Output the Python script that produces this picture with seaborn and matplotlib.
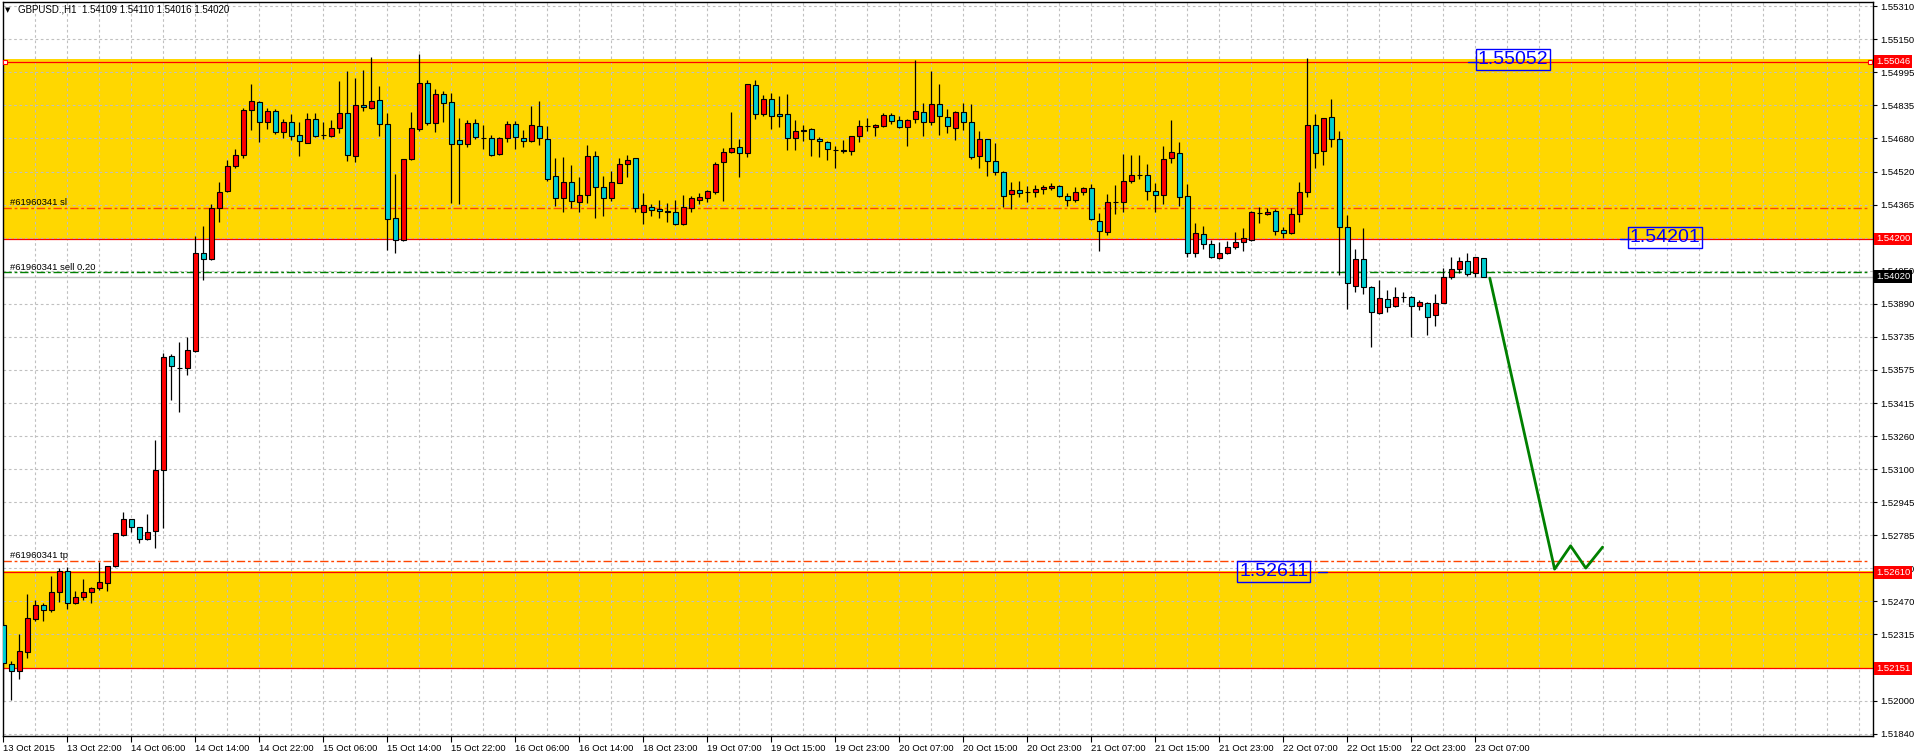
import numpy as np
import pandas as pd
import matplotlib
matplotlib.use("Agg")
import matplotlib.pyplot as plt
import matplotlib.transforms as mtransforms
import seaborn as sns

# GBPUSD H1 candles, 13 Oct 14:00 .. 23 Oct 07:00
opens = [
    1.52360, 1.52171, 1.52141, 1.52232, 1.52387, 1.52453, 1.52428, 1.52518, 1.52614, 1.52462,
    1.52494, 1.52516, 1.52534, 1.52561, 1.52638, 1.52790, 1.52862, 1.52826, 1.52767, 1.52805,
    1.53096, 1.53643, 1.53586, 1.53586, 1.53666, 1.54133, 1.54106, 1.54347, 1.54427, 1.54546,
    1.54599, 1.54817, 1.54852, 1.54756, 1.54809, 1.54712, 1.54756, 1.54695, 1.54659, 1.54771,
    1.54695, 1.54693, 1.54731, 1.54799, 1.54594, 1.54838, 1.54823, 1.54861, 1.54747, 1.54299,
    1.54194, 1.54580, 1.54722, 1.54942, 1.54752, 1.54890, 1.54852, 1.54671, 1.54652, 1.54752,
    1.54683, 1.54680, 1.54604, 1.54683, 1.54747, 1.54682, 1.54666, 1.54737, 1.54675, 1.54499,
    1.54394, 1.54470, 1.54375, 1.54408, 1.54596, 1.54446, 1.54394, 1.54465, 1.54556, 1.54585,
    1.54330, 1.54350, 1.54341, 1.54332, 1.54327, 1.54270, 1.54349, 1.54386, 1.54397, 1.54426,
    1.54566, 1.54613, 1.54637, 1.54612, 1.54933, 1.54795, 1.54866, 1.54796, 1.54795, 1.54679,
    1.54717, 1.54723, 1.54677, 1.54663, 1.54626, 1.54620, 1.54617, 1.54690, 1.54737, 1.54736,
    1.54737, 1.54790, 1.54766, 1.54733, 1.54771, 1.54804, 1.54756, 1.54842, 1.54780, 1.54731,
    1.54804, 1.54756, 1.54597, 1.54675, 1.54574, 1.54518, 1.54413, 1.54432, 1.54423, 1.54426,
    1.54437, 1.54442, 1.54453, 1.54405, 1.54384, 1.54423, 1.54442, 1.54284, 1.54232, 1.54375,
    1.54375, 1.54475, 1.54504, 1.54504, 1.54427, 1.54408, 1.54585, 1.54609, 1.54403, 1.54132,
    1.54222, 1.54175, 1.54111, 1.54132, 1.54163, 1.54187, 1.54195, 1.54325, 1.54319, 1.54335,
    1.54243, 1.54227, 1.54319, 1.54423, 1.54742, 1.54617, 1.54780, 1.54675, 1.54259, 1.53977,
    1.54103, 1.53973, 1.53846, 1.53912, 1.53880, 1.53925, 1.53925, 1.53880, 1.53896, 1.53838,
    1.53896, 1.54017, 1.54055, 1.54093, 1.54036, 1.54109]

highs = [
    1.52375, 1.52189, 1.52315, 1.52507, 1.52476, 1.52462, 1.52593, 1.52629, 1.52634, 1.52521,
    1.52579, 1.52539, 1.52659, 1.52640, 1.52798, 1.52898, 1.52864, 1.52828, 1.52886, 1.53243,
    1.53656, 1.53652, 1.53710, 1.53733, 1.54212, 1.54262, 1.54366, 1.54472, 1.54576, 1.54627,
    1.54823, 1.54939, 1.54858, 1.54826, 1.54818, 1.54772, 1.54796, 1.54756, 1.54801, 1.54801,
    1.54756, 1.54768, 1.54954, 1.55001, 1.54966, 1.55006, 1.55067, 1.54930, 1.54799, 1.54510,
    1.54582, 1.54806, 1.55081, 1.54957, 1.54914, 1.54906, 1.54895, 1.54776, 1.54768, 1.54771,
    1.54744, 1.54696, 1.54686, 1.54761, 1.54761, 1.54720, 1.54834, 1.54858, 1.54737, 1.54588,
    1.54593, 1.54553, 1.54497, 1.54648, 1.54620, 1.54500, 1.54524, 1.54586, 1.54599, 1.54588,
    1.54419, 1.54367, 1.54386, 1.54370, 1.54386, 1.54410, 1.54407, 1.54418, 1.54434, 1.54569,
    1.54636, 1.54807, 1.54677, 1.54940, 1.54958, 1.54887, 1.54898, 1.54882, 1.54892, 1.54768,
    1.54744, 1.54731, 1.54688, 1.54669, 1.54644, 1.54672, 1.54690, 1.54768, 1.54776, 1.54748,
    1.54799, 1.54799, 1.54787, 1.54771, 1.55054, 1.54847, 1.55001, 1.54939, 1.54820, 1.54812,
    1.54849, 1.54842, 1.54715, 1.54677, 1.54656, 1.54524, 1.54470, 1.54475, 1.54453, 1.54456,
    1.54456, 1.54469, 1.54458, 1.54418, 1.54450, 1.54450, 1.54462, 1.54325, 1.54415, 1.54458,
    1.54605, 1.54599, 1.54601, 1.54558, 1.54466, 1.54644, 1.54768, 1.54661, 1.54462, 1.54278,
    1.54262, 1.54195, 1.54187, 1.54191, 1.54233, 1.54251, 1.54335, 1.54351, 1.54349, 1.54343,
    1.54256, 1.54349, 1.54470, 1.55065, 1.54796, 1.54776, 1.54868, 1.54715, 1.54314, 1.54152,
    1.54251, 1.53976, 1.54004, 1.53957, 1.53973, 1.53947, 1.53930, 1.53909, 1.53898, 1.53936,
    1.54063, 1.54112, 1.54112, 1.54132, 1.54112, 1.54110]

lows = [
    1.51992, 1.52001, 1.52099, 1.52203, 1.52378, 1.52378, 1.52422, 1.52467, 1.52437, 1.52460,
    1.52480, 1.52464, 1.52527, 1.52521, 1.52636, 1.52785, 1.52803, 1.52749, 1.52763, 1.52728,
    1.52821, 1.53431, 1.53374, 1.53550, 1.53661, 1.54002, 1.54101, 1.54280, 1.54424, 1.54540,
    1.54585, 1.54720, 1.54664, 1.54726, 1.54702, 1.54683, 1.54672, 1.54597, 1.54656, 1.54687,
    1.54677, 1.54688, 1.54707, 1.54574, 1.54569, 1.54812, 1.54820, 1.54691, 1.54147, 1.54135,
    1.54189, 1.54577, 1.54717, 1.54741, 1.54712, 1.54760, 1.54373, 1.54365, 1.54640, 1.54675,
    1.54631, 1.54597, 1.54601, 1.54663, 1.54631, 1.54640, 1.54663, 1.54648, 1.54474, 1.54359,
    1.54330, 1.54346, 1.54330, 1.54373, 1.54302, 1.54307, 1.54383, 1.54465, 1.54493, 1.54327,
    1.54273, 1.54311, 1.54300, 1.54283, 1.54265, 1.54268, 1.54330, 1.54367, 1.54376, 1.54416,
    1.54383, 1.54609, 1.54497, 1.54593, 1.54772, 1.54784, 1.54726, 1.54736, 1.54624, 1.54624,
    1.54669, 1.54596, 1.54593, 1.54577, 1.54540, 1.54612, 1.54598, 1.54664, 1.54717, 1.54693,
    1.54736, 1.54747, 1.54730, 1.54644, 1.54755, 1.54693, 1.54741, 1.54696, 1.54707, 1.54674,
    1.54721, 1.54583, 1.54540, 1.54500, 1.54505, 1.54354, 1.54343, 1.54402, 1.54378, 1.54402,
    1.54415, 1.54434, 1.54402, 1.54359, 1.54378, 1.54410, 1.54291, 1.54140, 1.54219, 1.54319,
    1.54326, 1.54469, 1.54485, 1.54384, 1.54330, 1.54365, 1.54564, 1.54359, 1.54116, 1.54116,
    1.54152, 1.54108, 1.54103, 1.54127, 1.54151, 1.54144, 1.54192, 1.54278, 1.54313, 1.54219,
    1.54206, 1.54225, 1.54281, 1.54402, 1.54540, 1.54553, 1.54640, 1.54028, 1.53865, 1.53949,
    1.53938, 1.53683, 1.53842, 1.53853, 1.53877, 1.53901, 1.53731, 1.53861, 1.53742, 1.53787,
    1.53893, 1.54011, 1.54036, 1.54025, 1.54020, 1.54016]

closes = [
    1.52175, 1.52139, 1.52234, 1.52390, 1.52453, 1.52431, 1.52516, 1.52614, 1.52462, 1.52494,
    1.52516, 1.52534, 1.52562, 1.52638, 1.52796, 1.52862, 1.52826, 1.52767, 1.52803, 1.53096,
    1.53638, 1.53593, 1.53586, 1.53670, 1.54133, 1.54104, 1.54348, 1.54424, 1.54546, 1.54600,
    1.54814, 1.54857, 1.54756, 1.54809, 1.54709, 1.54756, 1.54693, 1.54666, 1.54771, 1.54690,
    1.54695, 1.54728, 1.54799, 1.54599, 1.54838, 1.54828, 1.54857, 1.54747, 1.54294, 1.54194,
    1.54580, 1.54728, 1.54942, 1.54752, 1.54890, 1.54847, 1.54652, 1.54652, 1.54752, 1.54688,
    1.54680, 1.54602, 1.54680, 1.54747, 1.54688, 1.54666, 1.54742, 1.54679, 1.54485, 1.54394,
    1.54470, 1.54380, 1.54408, 1.54596, 1.54446, 1.54394, 1.54470, 1.54556, 1.54575, 1.54346,
    1.54361, 1.54338, 1.54332, 1.54327, 1.54270, 1.54351, 1.54394, 1.54398, 1.54427, 1.54556,
    1.54613, 1.54632, 1.54609, 1.54938, 1.54795, 1.54866, 1.54784, 1.54784, 1.54679, 1.54715,
    1.54720, 1.54675, 1.54666, 1.54631, 1.54624, 1.54623, 1.54690, 1.54737, 1.54737, 1.54742,
    1.54790, 1.54761, 1.54733, 1.54766, 1.54809, 1.54756, 1.54842, 1.54785, 1.54737, 1.54804,
    1.54756, 1.54593, 1.54675, 1.54574, 1.54521, 1.54407, 1.54432, 1.54418, 1.54423, 1.54437,
    1.54448, 1.54453, 1.54405, 1.54384, 1.54423, 1.54442, 1.54294, 1.54240, 1.54375, 1.54375,
    1.54475, 1.54504, 1.54504, 1.54427, 1.54408, 1.54580, 1.54613, 1.54399, 1.54132, 1.54227,
    1.54175, 1.54116, 1.54132, 1.54163, 1.54187, 1.54203, 1.54330, 1.54325, 1.54330, 1.54240,
    1.54227, 1.54319, 1.54423, 1.54742, 1.54612, 1.54776, 1.54675, 1.54259, 1.53989, 1.54103,
    1.53973, 1.53850, 1.53917, 1.53874, 1.53922, 1.53925, 1.53880, 1.53901, 1.53826, 1.53896,
    1.54017, 1.54055, 1.54093, 1.54031, 1.54112, 1.54020]

x_labels = ["13 Oct 2015", "13 Oct 22:00", "14 Oct 06:00", "14 Oct 14:00", "14 Oct 22:00",
            "15 Oct 06:00", "15 Oct 14:00", "15 Oct 22:00", "16 Oct 06:00", "16 Oct 14:00",
            "18 Oct 23:00", "19 Oct 07:00", "19 Oct 15:00", "19 Oct 23:00", "20 Oct 07:00",
            "20 Oct 15:00", "20 Oct 23:00", "21 Oct 07:00", "21 Oct 15:00", "21 Oct 23:00",
            "22 Oct 07:00", "22 Oct 15:00", "22 Oct 23:00", "23 Oct 07:00"]

y_labels = ["1.51840", "1.52000", "", "1.52315", "1.52470", "1.52630", "1.52785", "1.52945",
            "1.53100", "1.53260", "1.53415", "1.53575", "1.53735", "1.53890", "1.54050", "",
            "1.54365", "1.54520", "1.54680", "1.54835", "1.54995", "1.55150", "1.55310"]

# zones (rectangles) and their border prices
zone_levels = [1.55046, 1.54200, 1.52610, 1.52151]
upper_zone = (1.54196, 1.55057)
lower_zone = (1.52147, 1.52614)

# order lines
sl_price = 1.54346
entry_price = 1.54040
tp_price = 1.52666
bid_price = 1.54020

# projected path (bar index, price)
proj_bars = [185.8, 193.9, 195.9, 197.8, 199.9]
proj_prices = [1.54013, 1.52625, 1.52736, 1.52630, 1.52730]

# text labels: (text, bar of left edge, price)
price_notes = [("1.55052", 184.3, 1.55054), ("1.54201", 203.3, 1.54205), ("1.52611", 154.5, 1.52612)]

df = pd.DataFrame({"open": opens, "high": highs, "low": lows, "close": closes})
df["bar"] = np.arange(len(df))
df["color"] = np.where(df["close"] > df["open"], "#FF0000", "#00CED1")

sns.set_theme(style="white")
plt.rcParams["font.family"] = ["Liberation Sans", "DejaVu Sans"]

fig = plt.figure(figsize=(19.16, 7.54), dpi=100)
ax = fig.add_axes([0.00141, 0.02387, 0.97615, 0.97347])
ax.set_facecolor("white")
ax.set_xlim(-0.08, 233.7)
ax.set_ylim(1.51829, 1.55330)

# yellow zones with red borders
ax.axhspan(*upper_zone, color="#FFD700", lw=0, zorder=0)
ax.axhspan(*lower_zone, color="#FFD700", lw=0, zorder=0)

# grid
y_ticks = np.linspace(1.51840, 1.55310, len(y_labels))
grid_style = dict(color="#C0C0C0", lw=0.8, linestyle=(0, (2.4, 2.4)), zorder=1)
for y in y_ticks:
    ax.axhline(y, **grid_style)
for x in np.arange(4, 234, 4):
    ax.axvline(x, **grid_style)

for lvl in zone_levels:
    ax.axhline(lvl, color="#FF0000", lw=0.9, zorder=2)
ax.plot([0.25, 233.35], [zone_levels[0]] * 2, "s", ms=3.5, mfc="white", mec="#FF0000",
        mew=0.8, zorder=6, clip_on=False)

# order lines
dashdot = (0, (6, 2, 2, 2))
ax.axhline(bid_price, color="#C0C0C0", lw=1.0, zorder=2)
ax.axhline(sl_price, xmax=0.998, color="#FF4500", lw=1.0, linestyle=dashdot, zorder=2)
ax.axhline(tp_price, xmax=0.998, color="#FF4500", lw=1.0, linestyle=dashdot, zorder=2)
ax.axhline(entry_price, xmax=0.998, color="#008000", lw=1.0, linestyle=dashdot, zorder=2)

order_tf = mtransforms.blended_transform_factory(ax.transAxes, ax.transData)
for txt, p in [("#61960341 sl", sl_price), ("#61960341 sell 0.20", entry_price),
               ("#61960341 tp", tp_price)]:
    ax.text(0.0040, p + 0.00004, txt, transform=order_tf, fontsize=6.8, color="black",
            ha="left", va="bottom", zorder=7)

# candles
ax.vlines(df["bar"], df["low"], df["high"], color="black", lw=0.9, zorder=3)
ax.bar(df["bar"], df["close"] - df["open"], bottom=df["open"], width=0.62,
       color=df["color"], edgecolor="black", linewidth=0.8, zorder=4)

# projected path
sns.lineplot(x=proj_bars, y=proj_prices, color="#008000", lw=2.0, ax=ax, zorder=5)

# blue price notes
for txt, bx, p in price_notes:
    ax.text(bx, p, txt, fontsize=14, color="#0000FF", ha="left", va="center", zorder=8,
            bbox=dict(boxstyle="square,pad=0.1", fc="none", ec="#0000FF", lw=1.0))
ax.plot([183.1, 184.3], [1.55046, 1.55046], color="#0000FF", lw=1.0, zorder=8)
ax.plot([202.1, 203.3], [1.54200, 1.54200], color="#0000FF", lw=1.0, zorder=8)
ax.plot([164.3, 165.5], [1.52612, 1.52612], color="#0000FF", lw=1.0, zorder=8)

# axes, ticks
for s in ax.spines.values():
    s.set_color("black")
    s.set_linewidth(1.0)
ax.yaxis.tick_right()
ax.set_yticks(y_ticks)
ax.set_yticklabels(y_labels)
ax.set_xticks(np.arange(0, 8 * len(x_labels), 8))
ax.set_xticklabels(x_labels, ha="left")
ax.tick_params(axis="y", right=True, left=False, length=3, width=0.8, pad=2,
               labelsize=6.8, colors="black", direction="out")
ax.tick_params(axis="x", bottom=True, length=4, width=0.8, pad=1.5,
               labelsize=6.8, colors="black", direction="out")
ax.set_xlabel("")
ax.set_ylabel("")

# price boxes on the axis
box_tf = mtransforms.blended_transform_factory(ax.transAxes, ax.transData)
for lvl in zone_levels:
    ax.text(1.0016, lvl, f"{lvl:.5f}", transform=box_tf, fontsize=6.8, color="white",
            ha="left", va="center", zorder=9, clip_on=False,
            bbox=dict(boxstyle="square,pad=0.2", fc="#FF0000", ec="none"))
ax.text(1.0016, bid_price, f"{bid_price:.5f}", transform=box_tf, fontsize=6.8, color="white",
        ha="left", va="center", zorder=9, clip_on=False,
        bbox=dict(boxstyle="square,pad=0.2", fc="black", ec="none"))

# header
fig.text(8 / 1916, 1 - 10 / 754, "\u25bc", fontsize=5, color="black", ha="center",
         va="center", family=["DejaVu Sans"])
fig.text(18 / 1916, 1 - 10 / 754, "GBPUSD.,H1  1.54109 1.54110 1.54016 1.54020",
         fontsize=7, color="black", ha="left", va="center")

fig.savefig("out.png", dpi=100, facecolor="white")
